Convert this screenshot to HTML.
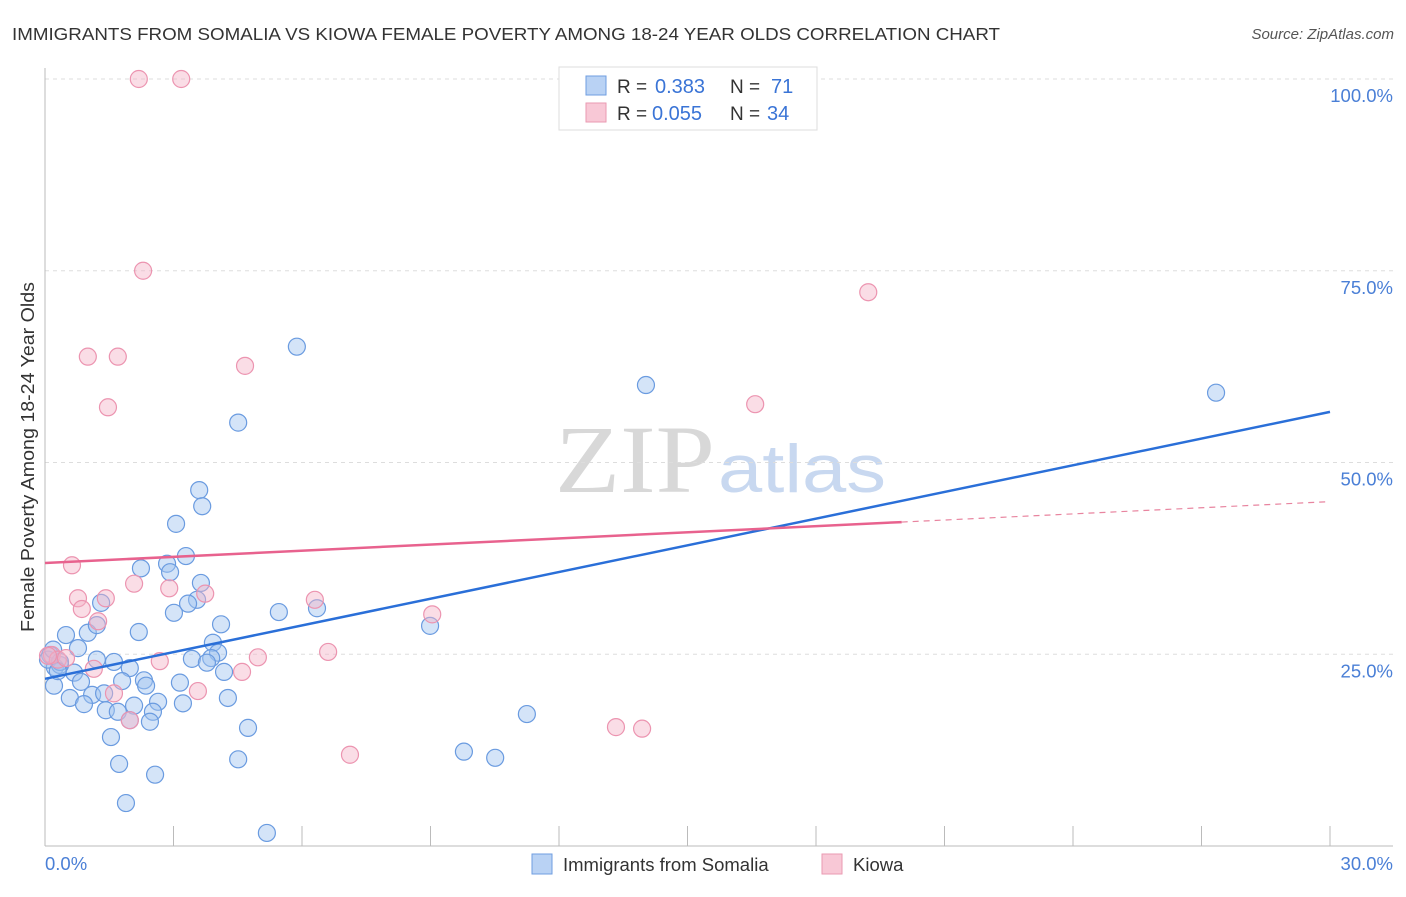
<!DOCTYPE html>
<html><head><meta charset="utf-8"><style>
body{margin:0;background:#fff;font-family:"Liberation Sans",sans-serif}
</style></head><body>
<svg width="1406" height="892" xmlns="http://www.w3.org/2000/svg" id="chart">
<text x="12" y="40" font-size="17.5" fill="#333" textLength="988" lengthAdjust="spacingAndGlyphs">IMMIGRANTS FROM SOMALIA VS KIOWA FEMALE POVERTY AMONG 18-24 YEAR OLDS CORRELATION CHART</text>
<text x="1394" y="39" font-size="15" fill="#555" font-style="italic" text-anchor="end">Source: ZipAtlas.com</text>
<text x="555" y="492" font-size="96" font-family="Liberation Serif,serif" fill="#d8d8d8" textLength="160" lengthAdjust="spacingAndGlyphs">ZIP</text>
<text x="718" y="492" font-size="68" fill="#c8d8f0" textLength="168" lengthAdjust="spacingAndGlyphs">atlas</text>
<g id="grid"></g>
<g id="axes"></g>
<text transform="translate(34,457) rotate(-90)" font-size="18" fill="#333" text-anchor="middle" textLength="350" lengthAdjust="spacingAndGlyphs">Female Poverty Among 18-24 Year Olds</text>
<g id="pts"></g>
<g id="lines"></g>
<g>
<rect x="559" y="67" width="258" height="63" fill="#fff" stroke="#ddd"/>
<rect x="586" y="76" width="20" height="19" fill="#b9d2f4" stroke="#6f9ee0"/>
<rect x="586" y="103" width="20" height="19" fill="#f8c8d6" stroke="#ea9ab2"/>
<text x="617" y="93" font-size="19" fill="#333">R =</text>
<text x="655" y="93" font-size="20" fill="#3a74d6">0.383</text>
<text x="730" y="93" font-size="19" fill="#333">N =</text>
<text x="771" y="93" font-size="20" fill="#3a74d6">71</text>
<text x="617" y="120" font-size="19" fill="#333">R =</text>
<text x="652" y="120" font-size="20" fill="#3a74d6">0.055</text>
<text x="730" y="120" font-size="19" fill="#333">N =</text>
<text x="767" y="120" font-size="20" fill="#3a74d6">34</text>
</g>
<g>
<rect x="532" y="854" width="20" height="20" fill="#b9d2f4" stroke="#6f9ee0"/>
<text x="563" y="871" font-size="18.5" fill="#333">Immigrants from Somalia</text>
<rect x="822" y="854" width="20" height="20" fill="#f8c8d6" stroke="#ea9ab2"/>
<text x="853" y="871" font-size="18.5" fill="#333">Kiowa</text>
</g>
</svg>
<script>
const yTicks=[25,50,75,100];
const yTickLabels=["25.0%","50.0%","75.0%","100.0%"];
const xTickLabels=["0.0%","30.0%"];
const blueX=[5.88,14.03,27.34,4.51,3.60,3.67,3.06,2.24,3.29,2.85,2.92,3.64,3.55,3.34,3.01,5.46,6.35,8.99,1.31,1.00,0.49,1.21,2.19,4.11,0.77,3.92,1.21,1.61,3.43,4.04,3.88,3.78,0.12,0.23,0.68,0.35,1.98,4.18,2.31,2.36,3.15,1.80,0.84,1.10,1.38,0.58,0.21,0.91,2.64,3.22,4.27,1.42,1.70,2.08,2.52,1.98,2.45,4.74,1.54,11.25,9.78,10.51,4.51,1.73,2.57,1.89,5.18,0.07,0.19,0.35,0.30];
const blueY=[65.1,60.1,59.1,55.2,46.4,44.3,42.0,36.2,37.8,36.8,35.7,34.3,32.1,31.6,30.4,30.5,31.0,28.7,31.7,27.8,27.5,28.8,27.9,28.9,25.8,26.5,24.3,24.0,24.4,25.2,24.5,23.9,24.9,23.3,22.6,23.6,23.2,22.7,21.6,20.9,21.3,21.5,21.4,19.7,19.9,19.3,20.9,18.5,18.8,18.6,19.3,17.7,17.5,18.3,17.5,16.4,16.2,15.4,14.2,17.2,12.3,11.5,11.3,10.7,9.3,5.6,1.7,24.3,25.6,24.0,22.8];
const pinkX=[2.19,3.18,2.29,19.22,1.00,1.70,4.67,1.47,16.58,0.63,2.08,2.90,3.74,0.77,1.42,6.30,9.04,0.86,1.24,0.16,0.30,0.07,0.49,1.14,2.68,4.97,6.61,4.60,1.61,3.57,1.98,7.12,13.33,13.94];
const pinkY=[100,100,75.0,72.2,63.8,63.8,62.6,57.2,57.6,36.6,34.2,33.6,32.9,32.3,32.3,32.1,30.2,30.9,29.3,24.9,24.3,24.8,24.5,23.1,24.1,24.6,25.3,22.7,19.9,20.2,16.4,11.9,15.5,15.3];
const blueTrend=[21.8,56.6];
const pinkTrend=[36.9,44.9];
const pinkSolidEnd=20.0;
const NS="http://www.w3.org/2000/svg";
const sx=v=>45+v/30*1285, sy=v=>846-v/100*767;
function mk(tag,attrs,parent){const e=document.createElementNS(NS,tag);for(const k in attrs)e.setAttribute(k,attrs[k]);parent.appendChild(e);return e;}
const grid=document.getElementById('grid'),axes=document.getElementById('axes'),pts=document.getElementById('pts'),lines=document.getElementById('lines');
yTicks.forEach((t,i)=>{
 const l=mk('line',{x1:45,x2:1393,y1:sy(t),y2:sy(t),stroke:'#ddd','stroke-dasharray':'4,4'},grid);
 
 
 const tx=mk('text',{x:1393,y:sy(t)+23,'font-size':18.5,fill:'#4a7fd6','text-anchor':'end'},axes);
 tx.textContent=yTickLabels[i];
 
 
});
let a=mk('line',{x1:45,x2:45,y1:68,y2:846,stroke:'#bbb'},axes);


a=mk('line',{x1:45,x2:1393,y1:846,y2:846,stroke:'#bbb'},axes);


for(let i=0;i<=10;i++){const x=sx(i*3);
 const t=mk('line',{x1:x,x2:x,y1:826,y2:846,stroke:'#bbb'},axes);
 
 }
[[0,'start',45],[30,'end',1393]].forEach((d,i)=>{
 const tx=mk('text',{x:d[2],y:870,'font-size':18.5,fill:'#4a7fd6','text-anchor':d[1]},axes);
 tx.textContent=xTickLabels[i];
 
 });
blueX.forEach((x,i)=>{
 const c=mk('circle',{cx:sx(x),cy:sy(blueY[i]),r:8.5,fill:'rgba(160,195,240,0.45)',stroke:'#6a9be0','stroke-width':1.2},pts);
 
 });
pinkX.forEach((x,i)=>{
 const c=mk('circle',{cx:sx(x),cy:sy(pinkY[i]),r:8.5,fill:'rgba(245,180,200,0.45)',stroke:'#ec94b0','stroke-width':1.2},pts);
 
 });
let ln=mk('line',{x1:sx(0),y1:sy(blueTrend[0]),x2:sx(30),y2:sy(blueTrend[1]),stroke:'#2a6fd8','stroke-width':2.5},lines);


const pAt=x=>pinkTrend[0]+(pinkTrend[1]-pinkTrend[0])*x/30;
ln=mk('line',{x1:sx(0),y1:sy(pinkTrend[0]),x2:sx(pinkSolidEnd),y2:sy(pAt(pinkSolidEnd)),stroke:'#e8628e','stroke-width':2.5},lines);


ln=mk('line',{x1:sx(pinkSolidEnd),y1:sy(pAt(pinkSolidEnd)),x2:sx(30),y2:sy(pinkTrend[1]),stroke:'#e8849f','stroke-width':1.2,'stroke-dasharray':'6,5'},lines);


</script>
</body></html>
